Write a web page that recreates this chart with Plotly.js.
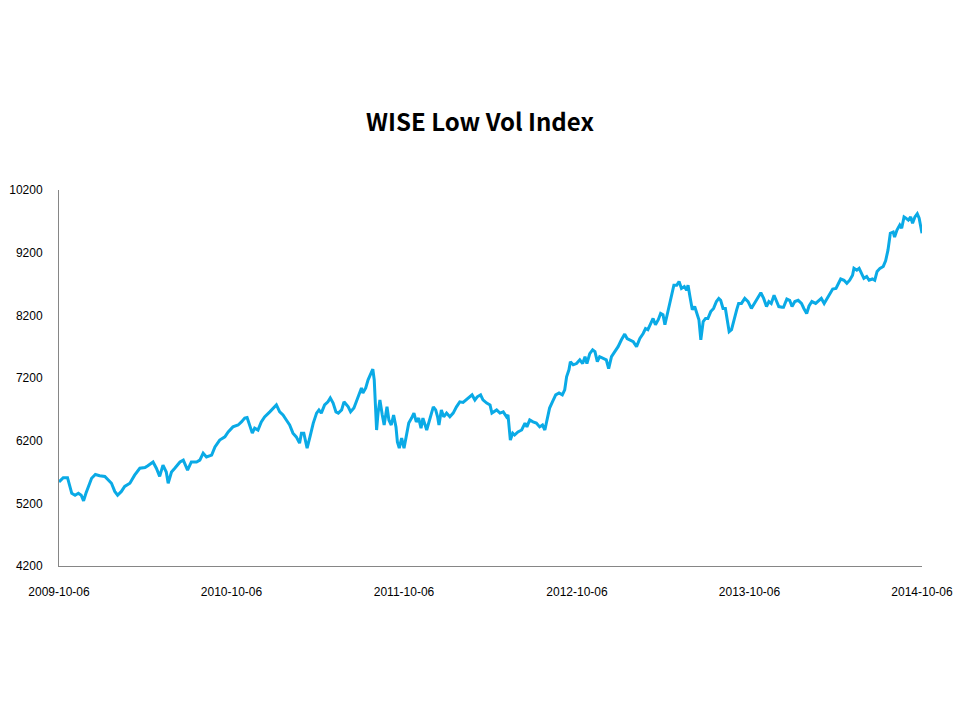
<!DOCTYPE html>
<html>
<head>
<meta charset="utf-8">
<script src="https://cdn.plot.ly/plotly-3.0.1.min.js"></script>
<style>html,body{margin:0;padding:0;background:#fff;}#chart{width:960px;height:720px;}</style>
</head>
<body>
<div id="chart"></div>
<script>
const chartTitle = "WISE Low Vol Index";

const dates = [
"2009-10-06","2009-10-15","2009-10-24","2009-10-27","2009-11-02","2009-11-09","2009-11-16","2009-11-22","2009-11-27","2009-12-02",
"2009-12-07","2009-12-14","2009-12-22","2009-12-31","2010-01-11","2010-01-18","2010-01-25","2010-02-01","2010-02-07","2010-02-15",
"2010-02-22","2010-03-05","2010-03-15","2010-03-26","2010-04-06","2010-04-12","2010-04-23","2010-04-30","2010-05-07","2010-05-14",
"2010-05-21","2010-05-25","2010-06-01","2010-06-08","2010-06-19","2010-06-26","2010-07-05","2010-07-13","2010-07-24","2010-07-31",
"2010-08-07","2010-08-14","2010-08-25","2010-09-01","2010-09-11","2010-09-22","2010-09-29","2010-10-09","2010-10-20","2010-10-27",
"2010-11-03","2010-11-08","2010-11-14","2010-11-19","2010-11-24","2010-12-01","2010-12-08","2010-12-15","2010-12-26","2011-01-02",
"2011-01-09","2011-01-16","2011-01-23","2011-01-30","2011-02-06","2011-02-13","2011-02-20","2011-02-27","2011-03-03","2011-03-08",
"2011-03-15","2011-03-21","2011-03-28","2011-04-04","2011-04-09","2011-04-14","2011-04-21","2011-04-28","2011-05-03","2011-05-09",
"2011-05-15","2011-05-20","2011-05-27","2011-06-01","2011-06-06","2011-06-10","2011-06-15","2011-06-22","2011-06-27","2011-07-04",
"2011-07-08","2011-07-11","2011-07-17","2011-07-22","2011-07-28","2011-08-01","2011-08-04","2011-08-07","2011-08-09","2011-08-12",
"2011-08-16","2011-08-21","2011-08-25","2011-08-31","2011-09-04","2011-09-09","2011-09-14","2011-09-19","2011-09-22","2011-09-26",
"2011-10-01","2011-10-06","2011-10-11","2011-10-16","2011-10-22","2011-10-27","2011-11-01","2011-11-06","2011-11-11","2011-11-15",
"2011-11-23","2011-11-30","2011-12-07","2011-12-12","2011-12-16","2011-12-19","2011-12-24","2011-12-29","2012-01-04","2012-01-11",
"2012-01-18","2012-01-25","2012-02-01","2012-02-08","2012-02-15","2012-02-22","2012-02-27","2012-03-04","2012-03-09","2012-03-16",
"2012-03-21","2012-03-29","2012-04-05","2012-04-09","2012-04-19","2012-04-26","2012-05-03","2012-05-10","2012-05-13","2012-05-18",
"2012-05-23","2012-05-27","2012-06-03","2012-06-11","2012-06-18","2012-06-22","2012-06-28","2012-07-05","2012-07-12","2012-07-19",
"2012-07-25","2012-07-30","2012-08-04","2012-08-09","2012-08-15","2012-08-22","2012-08-29","2012-09-05","2012-09-10","2012-09-14",
"2012-09-19","2012-09-22","2012-09-28","2012-10-05","2012-10-12","2012-10-18","2012-10-23","2012-10-27","2012-11-02","2012-11-08",
"2012-11-13","2012-11-18","2012-11-23","2012-11-30","2012-12-07","2012-12-12","2012-12-18","2012-12-25","2013-01-01","2013-01-08",
"2013-01-15","2013-01-20","2013-01-26","2013-02-02","2013-02-09","2013-02-16","2013-02-23","2013-02-28","2013-03-05","2013-03-11",
"2013-03-16","2013-03-21","2013-03-27","2013-04-01","2013-04-06","2013-04-10","2013-04-15","2013-04-20","2013-04-24","2013-04-29",
"2013-05-05","2013-05-10","2013-05-15","2013-05-21","2013-05-26","2013-05-29","2013-06-02","2013-06-07","2013-06-12","2013-06-16",
"2013-06-21","2013-06-25","2013-06-30","2013-07-05","2013-07-10","2013-07-16","2013-07-22","2013-07-28","2013-08-02","2013-08-06",
"2013-08-11","2013-08-16","2013-08-20","2013-08-24","2013-08-29","2013-09-03","2013-09-09","2013-09-13","2013-09-19","2013-09-26",
"2013-10-03","2013-10-10","2013-10-16","2013-10-23","2013-10-30","2013-11-05","2013-11-11","2013-11-16","2013-11-21","2013-11-27",
"2013-12-02","2013-12-07","2013-12-14","2013-12-17","2013-12-24","2013-12-30","2014-01-04","2014-01-10","2014-01-17","2014-01-24",
"2014-01-29","2014-02-04","2014-02-09","2014-02-15","2014-02-23","2014-03-02","2014-03-07","2014-03-13","2014-03-19","2014-03-25",
"2014-03-31","2014-04-07","2014-04-12","2014-04-17","2014-04-24","2014-04-30","2014-05-06","2014-05-12","2014-05-15","2014-05-21",
"2014-05-26","2014-05-31","2014-06-05","2014-06-11","2014-06-16","2014-06-23","2014-06-28","2014-07-03","2014-07-09","2014-07-16",
"2014-07-21","2014-07-26","2014-07-31","2014-08-06","2014-08-09","2014-08-14","2014-08-20","2014-08-24","2014-08-29","2014-09-02",
"2014-09-07","2014-09-12","2014-09-16","2014-09-21","2014-09-26","2014-09-30","2014-10-03","2014-10-06"
];

const indexValues = [
5540,5610,5610,5520,5360,5330,5360,5330,5240,5360,
5470,5600,5660,5640,5630,5570,5520,5390,5330,5390,
5470,5520,5650,5760,5770,5800,5860,5760,5630,5810,
5700,5520,5700,5760,5860,5890,5730,5860,5860,5890,
6000,5940,5970,6100,6210,6260,6340,6420,6450,6500,
6560,6570,6420,6320,6400,6370,6500,6580,6660,6720,
6770,6660,6610,6530,6450,6320,6260,6160,6320,6320,
6080,6260,6480,6640,6690,6640,6770,6820,6880,6800,
6660,6640,6690,6820,6770,6740,6660,6720,6820,6960,
7040,6960,7040,7170,7280,7340,7170,6740,6370,6640,
6850,6610,6450,6740,6530,6450,6610,6420,6180,6080,
6240,6080,6290,6480,6560,6640,6500,6560,6400,6560,
6370,6560,6740,6690,6580,6450,6690,6580,6640,6580,
6640,6740,6820,6810,6860,6900,6930,6850,6900,6930,
6850,6800,6770,6640,6690,6640,6660,6580,6610,6210,
6320,6290,6340,6370,6480,6420,6530,6500,6480,6420,
6450,6370,6560,6720,6820,6930,6960,6930,7010,7220,
7330,7460,7410,7430,7490,7430,7540,7430,7590,7650,
7620,7460,7540,7510,7490,7350,7540,7620,7700,7810,
7900,7830,7810,7780,7700,7830,7910,7990,7970,8070,
8150,8050,8130,8230,8210,8050,8210,8340,8500,8680,
8680,8740,8630,8660,8600,8680,8500,8290,8340,8260,
8130,7810,8100,8150,8150,8260,8310,8420,8470,8440,
8310,8310,8130,7940,7970,8130,8290,8390,8390,8470,
8420,8310,8390,8470,8560,8470,8340,8420,8390,8520,
8420,8340,8330,8330,8460,8440,8340,8420,8440,8390,
8310,8230,8350,8420,8390,8440,8470,8390,8470,8550,
8620,8630,8710,8780,8760,8710,8760,8840,8950,8920,
8950,8860,8790,8820,8760,8780,8760,8900,8950,8980,
9070,9240,9510,9530,9450,9560,9640,9590,9770,9750,
9720,9770,9670,9770,9820,9750,9590,9510
];

const xTickDates = ["2009-10-06","2010-10-06","2011-10-06","2012-10-06","2013-10-06","2014-10-06"];
const xTickLabels = ["2009-10-06","2010-10-06","2011-10-06","2012-10-06","2013-10-06","2014-10-06"];
const yTickValues = [4200,5200,6200,7200,8200,9200,10200];

const tickFont = {family: "Liberation Sans, Arial, sans-serif", size: 12, color: "#000"};

Plotly.newPlot("chart", [{
  x: dates,
  y: indexValues,
  type: "scatter",
  mode: "lines",
  line: {color: "#0AAAE6", width: 3},
  hoverinfo: "x+y"
}], {
  width: 960,
  height: 720,
  paper_bgcolor: "#fff",
  plot_bgcolor: "#fff",
  showlegend: false,
  margin: {l: 59, r: 38, t: 190, b: 154, pad: 0},
  title: {
    text: "<b>" + chartTitle + "</b>",
    font: {family: "Noto Sans CJK KR, Noto Sans, sans-serif", size: 24, color: "#000"},
    x: 0.5, xanchor: "center",
    y: 1 - 123/720, yanchor: "middle"
  },
  xaxis: {
    type: "date",
    range: ["2009-10-06", "2014-10-06"],
    tickmode: "array",
    tickvals: xTickDates,
    ticktext: xTickLabels,
    showgrid: false,
    zeroline: false,
    showline: true,
    linecolor: "#868686",
    linewidth: 1,
    ticks: "",
    ticklabelstandoff: 15,
    tickfont: tickFont
  },
  yaxis: {
    range: [4200, 10200],
    tickmode: "array",
    tickvals: yTickValues,
    ticktext: yTickValues.map(String),
    showgrid: false,
    zeroline: false,
    showline: true,
    linecolor: "#868686",
    linewidth: 1,
    ticks: "",
    ticklabelstandoff: 13,
    tickfont: tickFont
  }
}, {displayModeBar: false, staticPlot: true});
</script>
</body>
</html>
